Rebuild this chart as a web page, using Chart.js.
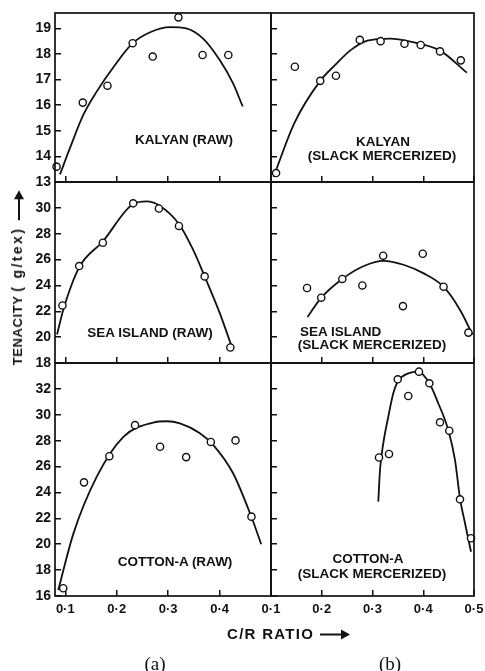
<!DOCTYPE html>
<html lang="en">
<head>
<meta charset="UTF-8">
<title>Tenacity vs C/R ratio</title>
<script src="https://cdn.jsdelivr.net/npm/chart.js"></script>
<style>
  body { margin: 0; background: #fff; }
  #page { position: relative; width: 485px; height: 671px; overflow: hidden; }
  #page canvas { position: absolute; left: 0; top: 0; }
  .lbl { position: absolute; font-family: "Liberation Sans", Arial, sans-serif; font-weight: bold;
         font-size: 13.5px; color: #111; white-space: nowrap; line-height: 1; }
  .c { transform: translate(-50%, -50%); }
  .cap { position: absolute; font-family: "Liberation Serif", "Times New Roman", serif; font-size: 19px;
         color: #111; transform: translate(-50%, -50%); line-height: 1; }
  .arrow { display: inline-block; position: relative; width: 22px; height: 2px; background: #111;
           vertical-align: middle; margin-left: 6px; }
  .arrow::after { content: ""; position: absolute; right: -8px; top: -4px; border-left: 9px solid #111;
                  border-top: 5px solid transparent; border-bottom: 5px solid transparent; }
  #yTitle { left: 17px; top: 282px; transform: translate(-50%, -50%) rotate(-90deg); font-size: 13px; }
  #xTitle { left: 227px; top: 633px; transform: translateY(-50%); font-size: 15px; letter-spacing: 1.3px; }
</style>
</head>
<body>
<div id="page">
  <canvas id="c1" width="500" height="671"></canvas>
  <canvas id="c2" width="500" height="671"></canvas>
  <canvas id="c3" width="500" height="671"></canvas>
  <canvas id="c4" width="500" height="671"></canvas>
  <canvas id="c5" width="500" height="671"></canvas>
  <canvas id="c6" width="500" height="671"></canvas>

  <div class="lbl c" style="left:184px; top:140px;">KALYAN (RAW)</div>
  <div class="lbl c" style="left:383px; top:142px;">KALYAN</div>
  <div class="lbl c" style="left:382px; top:156px;">(SLACK MERCERIZED)</div>
  <div class="lbl c" style="left:150px; top:333px;">SEA ISLAND (RAW)</div>
  <div class="lbl" style="left:300px; top:325px;">SEA ISLAND</div>
  <div class="lbl c" style="left:372px; top:345px;">(SLACK MERCERIZED)</div>
  <div class="lbl c" style="left:175px; top:562px;">COTTON-A (RAW)</div>
  <div class="lbl c" style="left:368px; top:559px;">COTTON-A</div>
  <div class="lbl c" style="left:372px; top:574px;">(SLACK MERCERIZED)</div>

  <div class="lbl" id="yTitle"><span style="letter-spacing:0.6px">TENACITY</span> <span style="font-size:14px; letter-spacing:2.4px">( g/tex)</span><span class="arrow"></span></div>
  <div class="lbl" id="xTitle">C/R RATIO<span class="arrow"></span></div>

  <div class="cap" style="left:155px; top:663px;">(a)</div>
  <div class="cap" style="left:390px; top:663px;">(b)</div>
</div>

<script>
  // tick values
  const xTicksRaw = [0.1, 0.2, 0.3, 0.4];
  const xTicksSlack = [0.1, 0.2, 0.3, 0.4, 0.5];
  const yTicksKalyan = [13, 14, 15, 16, 17, 18, 19];
  const yTicksSea = [18, 20, 22, 24, 26, 28, 30];
  const yTicksCotton = [16, 18, 20, 22, 24, 26, 28, 30, 32];

  // KALYAN (raw) - measured points and fitted curve
  const kalyanRawX = [0.083, 0.134, 0.182, 0.231, 0.270, 0.320, 0.367, 0.417];
  const kalyanRawY = [13.6, 16.1, 16.76, 18.42, 17.9, 19.43, 17.96, 17.96];
  const kalyanRawFitX = [0.0897, 0.109, 0.135, 0.161, 0.196, 0.231, 0.265, 0.304, 0.335, 0.368, 0.400, 0.426, 0.445];
  const kalyanRawFitY = [13.3, 14.32, 15.62, 16.53, 17.55, 18.42, 18.85, 19.05, 19.0, 18.6, 17.77, 16.86, 15.95];

  // KALYAN (slack mercerized)
  const kalyanSlackX = [0.110, 0.147, 0.197, 0.228, 0.275, 0.316, 0.363, 0.395, 0.433, 0.474];
  const kalyanSlackY = [13.35, 17.5, 16.95, 17.15, 18.55, 18.5, 18.4, 18.35, 18.1, 17.75];
  const kalyanSlackFitX = [0.105, 0.146, 0.197, 0.228, 0.257, 0.290, 0.335, 0.375, 0.433, 0.486];
  const kalyanSlackFitY = [13.2, 15.3, 16.95, 17.6, 18.15, 18.52, 18.6, 18.48, 18.13, 17.27];

  // SEA ISLAND (raw)
  const seaRawX = [0.0945, 0.127, 0.173, 0.232, 0.282, 0.321, 0.371, 0.421];
  const seaRawY = [22.45, 25.5, 27.3, 30.35, 29.95, 28.6, 24.7, 19.2];
  const seaRawFitX = [0.084, 0.096, 0.127, 0.173, 0.232, 0.258, 0.282, 0.322, 0.348, 0.371, 0.400, 0.426];
  const seaRawFitY = [20.2, 22.1, 25.4, 27.4, 30.3, 30.5, 30.2, 28.7, 26.8, 24.7, 21.9, 19.0];

  // SEA ISLAND (slack mercerized)
  const seaSlackX = [0.171, 0.199, 0.2405, 0.280, 0.321, 0.360, 0.399, 0.440, 0.489];
  const seaSlackY = [23.8, 23.05, 24.5, 24.0, 26.3, 22.4, 26.45, 23.9, 20.35];
  const seaSlackFitX = [0.172, 0.199, 0.2405, 0.283, 0.322, 0.361, 0.400, 0.440, 0.4725, 0.497];
  const seaSlackFitY = [21.55, 23.05, 24.5, 25.5, 25.9, 25.6, 24.95, 23.9, 22.1, 20.2];

  // COTTON-A (raw)
  const cottonRawX = [0.096, 0.1364, 0.1857, 0.2356, 0.2843, 0.335, 0.383, 0.431, 0.462];
  const cottonRawY = [16.6, 24.78, 26.8, 29.2, 27.53, 26.73, 27.9, 28.02, 22.13];
  const cottonRawFitX = [0.0864, 0.1156, 0.161, 0.213, 0.271, 0.297, 0.323, 0.361, 0.387, 0.426, 0.462, 0.481];
  const cottonRawFitY = [16.46, 20.8, 25.2, 28.3, 29.4, 29.5, 29.34, 28.6, 27.7, 25.5, 22.1, 20.0];

  // COTTON-A (slack mercerized)
  const cottonSlackX = [0.3128, 0.3325, 0.3497, 0.3705, 0.3916, 0.412, 0.433, 0.4513, 0.4724, 0.4941];
  const cottonSlackY = [26.7, 26.97, 32.74, 31.45, 33.33, 32.43, 29.42, 28.77, 23.47, 20.46];
  const cottonSlackFitX = [0.3114, 0.3148, 0.3213, 0.3311, 0.341, 0.3508, 0.3705, 0.390, 0.412, 0.4296, 0.4493, 0.4626, 0.4724, 0.4823, 0.4941];
  const cottonSlackFitY = [23.29, 25.73, 27.8, 29.85, 31.66, 32.63, 33.2, 33.33, 32.43, 30.89, 28.82, 26.5, 23.55, 21.62, 19.42];

  Chart.defaults.font.family = '"Liberation Sans", Arial, sans-serif';
  Chart.defaults.font.size = 14;
  Chart.defaults.font.weight = 'bold';
  Chart.defaults.color = '#111';

  const W = 500, H = 671;

  // frame around each panel
  const boxPlugin = {
    id: 'box',
    afterDraw(chart) {
      const a = chart.chartArea;
      const ctx = chart.ctx;
      ctx.save();
      ctx.strokeStyle = '#111';
      ctx.lineWidth = 1.7;
      ctx.strokeRect(a.left, a.top, a.right - a.left, a.bottom - a.top);
      ctx.restore();
    }
  };

  function pairs(xs, ys) {
    return xs.map((x, i) => ({ x: x, y: ys[i] }));
  }

  function panel(id, area, xr, yr, xTicks, yTicks, showX, showY, px, py, fx, fy) {
    const yW = showY ? area.left : 0;
    const xH = showX ? 30 : 0;
    new Chart(document.getElementById(id), {
      type: 'scatter',
      data: {
        datasets: [
          {
            data: pairs(px, py),
            pointRadius: 3.6,
            pointBorderWidth: 1.4,
            pointBorderColor: '#111',
            pointBackgroundColor: '#fff',
            showLine: false,
            clip: false
          },
          {
            data: pairs(fx, fy),
            showLine: true,
            pointRadius: 0,
            borderColor: '#111',
            borderWidth: 1.8,
            cubicInterpolationMode: 'monotone',
            clip: false
          }
        ]
      },
      options: {
        responsive: false,
        animation: false,
        layout: {
          padding: {
            left: showY ? 0 : area.left,
            right: W - area.right,
            top: area.top,
            bottom: H - area.bottom - xH
          }
        },
        plugins: { legend: { display: false }, tooltip: { enabled: false } },
        scales: {
          x: {
            type: 'linear',
            min: xr[0],
            max: xr[1],
            afterBuildTicks: (s) => { s.ticks = xTicks.map(v => ({ value: v })); },
            afterFit: (s) => { s.height = xH; s.paddingLeft = 0; s.paddingRight = 0; },
            border: { display: false },
            grid: { drawOnChartArea: false, tickLength: -6, color: '#111', lineWidth: 1.5 },
            ticks: {
              display: showX,
              padding: 12,
              maxRotation: 0,
              autoSkip: false,
              font: { size: 13 },
              callback: (v) => v.toFixed(1).replace('.', '·')
            }
          },
          y: {
            type: 'linear',
            min: yr[0],
            max: yr[1],
            afterBuildTicks: (s) => { s.ticks = yTicks.map(v => ({ value: v })); },
            afterFit: (s) => { s.width = yW; s.paddingTop = 0; s.paddingBottom = 0; },
            border: { display: false },
            grid: { drawOnChartArea: false, tickLength: -6, color: '#111', lineWidth: 1.5 },
            ticks: { display: showY, padding: 10, autoSkip: false }
          }
        }
      },
      plugins: [boxPlugin]
    });
  }

  const colA = { left: 55, right: 271 };
  const colB = { left: 271, right: 474 };
  const rowTop = { top: 13, bottom: 182 };
  const rowMid = { top: 182, bottom: 363 };
  const rowBot = { top: 363, bottom: 596 };
  const xrA = [0.08, 0.5];
  const xrB = [0.1, 0.5];

  panel('c1', { ...colA, ...rowTop }, xrA, [13, 19.6], xTicksRaw, yTicksKalyan, false, true,
        kalyanRawX, kalyanRawY, kalyanRawFitX, kalyanRawFitY);
  panel('c2', { ...colB, ...rowTop }, xrB, [13, 19.6], xTicksSlack, yTicksKalyan, false, false,
        kalyanSlackX, kalyanSlackY, kalyanSlackFitX, kalyanSlackFitY);
  panel('c3', { ...colA, ...rowMid }, xrA, [18, 32], xTicksRaw, yTicksSea, false, true,
        seaRawX, seaRawY, seaRawFitX, seaRawFitY);
  panel('c4', { ...colB, ...rowMid }, xrB, [18, 32], xTicksSlack, yTicksSea, false, false,
        seaSlackX, seaSlackY, seaSlackFitX, seaSlackFitY);
  panel('c5', { ...colA, ...rowBot }, xrA, [16, 34], xTicksRaw, yTicksCotton, true, true,
        cottonRawX, cottonRawY, cottonRawFitX, cottonRawFitY);
  panel('c6', { ...colB, ...rowBot }, xrB, [16, 34], xTicksSlack, yTicksCotton, true, false,
        cottonSlackX, cottonSlackY, cottonSlackFitX, cottonSlackFitY);
</script>
</body>
</html>
